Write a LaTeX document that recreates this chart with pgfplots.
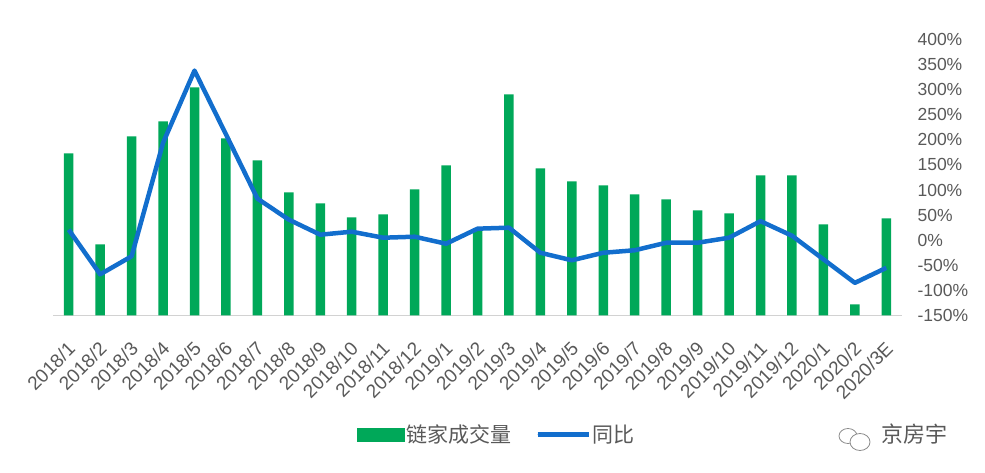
\documentclass[border=0pt]{standalone}
\usepackage{pgfplots}
\pgfplotsset{compat=1.18}
\usepackage{fontspec}
\setmainfont{Liberation Sans}
\newfontfamily\cjk{Noto Sans CJK SC}
\definecolor{barg}{RGB}{0,168,89}
\definecolor{lineb}{RGB}{18,110,205}
\definecolor{txt}{RGB}{89,89,89}
\definecolor{axg}{RGB}{210,210,210}
\begin{document}
\begin{tikzpicture}[x=1pt,y=1pt]
\path (0,0) rectangle (985,473);
\begin{axis}[
  at={(53pt,157.5pt)}, anchor=south west,
  scale only axis, width=849pt, height=276pt,
  xmin=-0.5, xmax=26.5, ymin=0, ymax=276,
  axis x line*=bottom, axis y line=none,
  x axis line style={draw=axg, line width=1.5pt, -},
  major tick length=0pt,
  xtick={0,...,26},
  xticklabels={2018/1,2018/2,2018/3,2018/4,2018/5,2018/6,2018/7,2018/8,2018/9,2018/10,2018/11,2018/12,2019/1,2019/2,2019/3,2019/4,2019/5,2019/6,2019/7,2019/8,2019/9,2019/10,2019/11,2019/12,2020/1,2020/2,2020/3E},
  xticklabel style={xshift=-2pt, yshift=-25pt, rotate=45, anchor=north east, font=\fontsize{19}{20}\selectfont, text=txt, inner sep=0pt},
  ybar, bar width=9.5pt, bar shift=0pt,
  clip=false,
]
\addplot[fill=barg, draw=none] coordinates {
(0,162) (1,71) (2,179) (3,194) (4,228) (5,177) (6,155) (7,123) (8,112) (9,98) (10,101) (11,126) (12,150) (13,85)
(14,221) (15,147) (16,134) (17,130) (18,121) (19,116) (20,105) (21,102) (22,140) (23,140) (24,91) (25,11) (26,97)};
\end{axis}
\begin{axis}[
  at={(53pt,157.5pt)}, anchor=south west,
  scale only axis, width=849pt, height=276pt,
  xmin=-0.5, xmax=26.5, ymin=-150, ymax=400,
  axis x line=none, axis y line*=right,
  y axis line style={draw=none},
  major tick length=0pt,
  ytick={-150,-100,...,400},
  yticklabels={-150\%,-100\%,-50\%,0\%,50\%,100\%,150\%,200\%,250\%,300\%,350\%,400\%},
  yticklabel style={anchor=west, font=\fontsize{17.5}{19}\selectfont, text=txt, xshift=12pt},
  clip=false,
  legend columns=2,
  legend style={draw=none, fill=none, at={(0.523,-0.431)}, anchor=center,
    font=\cjk\fontsize{21}{23}\selectfont, text=txt,
    nodes={inner sep=2pt},
    /tikz/every even column/.append style={column sep=22pt}},
]
\addlegendimage{legend image code/.code={\fill[barg] (0pt,-6.5pt) rectangle (47pt,6.5pt);}}
\addlegendentry{链家成交量}
\addplot[lineb, line width=4.5pt, line join=round,
  legend image code/.code={\path (0pt,0pt) -- (51pt,0pt);\draw[lineb, line width=5pt, line cap=round] (2.5pt,0pt) -- (46pt,0pt);}]
coordinates {
(0,21) (1,-68) (2,-32) (3,194) (4,338) (5,211) (6,83) (7,41) (8,11) (9,17) (10,5) (11,7) (12,-7) (13,23)
(14,25) (15,-25) (16,-40) (17,-25) (18,-20) (19,-5) (20,-5) (21,5) (22,38) (23,9) (24,-38) (25,-85) (26,-55)};
\addlegendentry{同比}
\end{axis}
\draw[txt!70, line width=0.8pt] (848,37) ellipse (9 and 7.5);
\draw[txt!70, line width=0.8pt, fill=white] (860,31) ellipse (10 and 8.5);
\node[anchor=west, text=txt, font=\cjk\fontsize{22}{24}\selectfont, inner sep=0pt] at (881,39) {京房宇};
\end{tikzpicture}
\end{document}
